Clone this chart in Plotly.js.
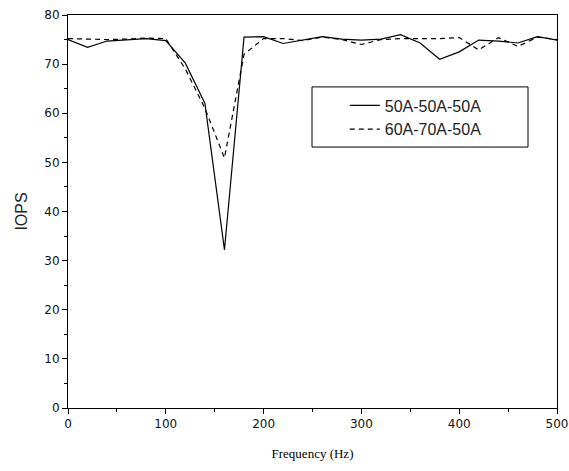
<!DOCTYPE html>
<html>
<head>
<meta charset="utf-8">
<script src="https://cdn.plot.ly/plotly-3.0.1.min.js"></script>
<style>html,body{margin:0;padding:0;background:#fff;}#chart{width:569px;height:471px;}</style>
</head>
<body>
<div id="chart"></div>
<script>
var freq = [0,20,40,60,80,100,120,140,160,180,200,220,240,260,280,300,320,340,360,380,400,420,440,460,480,500];
var series1Name = "50A-50A-50A";
var series1 = [75.0,73.4,74.7,75.0,75.2,74.8,70.2,62.0,32.2,75.5,75.6,74.2,74.9,75.6,75.1,74.9,75.1,76.0,74.3,71.0,72.5,74.9,74.7,74.3,75.6,74.9];
var series2Name = "60A-70A-50A";
var series2 = [75.2,75.1,75.0,75.1,75.3,75.2,69.0,61.0,50.9,72.0,75.2,75.2,74.8,75.5,75.0,74.0,75.0,75.2,75.2,75.2,75.4,72.9,75.4,73.6,75.5,75.0];
var xTicks = [0,100,200,300,400,500];
var yTicks = [0,10,20,30,40,50,60,70,80];

var traces = [
  {x: freq, y: series1, name: series1Name, mode: 'lines', type: 'scatter',
   line: {color: '#000', width: 1.2}},
  {x: freq, y: series2, name: series2Name, mode: 'lines', type: 'scatter',
   line: {color: '#000', width: 1.2, dash: '5px,4px'}}
];

var tickFont = {family: 'DejaVu Sans, Arial, sans-serif', size: 12, color: '#111'};
var layout = {
  width: 569, height: 471,
  margin: {l: 68, r: 12, t: 15, b: 63},
  paper_bgcolor: '#fff', plot_bgcolor: '#fff',
  showlegend: true,
  legend: {x: 0.566, y: 0.813, xanchor: 'left', yanchor: 'top',
    borderwidth: 0, bgcolor: 'rgba(0,0,0,0)',
    font: {family: 'Liberation Sans, Arial, sans-serif', size: 16, color: '#222'}},
  shapes: [{type: 'rect', xref: 'paper', yref: 'paper',
    x0: 0.499, x1: 0.9407, y0: 0.664, y1: 0.817,
    line: {color: '#000', width: 1}, fillcolor: '#fff', layer: 'below'}],
  xaxis: {range: [0, 500], tickvals: xTicks, ticktext: xTicks.map(String),
    ticks: 'outside', ticklen: 5, tickcolor: '#000', tickwidth: 1,
    minor: {dtick: 50, ticks: 'outside', ticklen: 3, tickcolor: '#000'},
    showline: true, linecolor: '#000', linewidth: 1, mirror: true,
    showgrid: false, zeroline: false, tickfont: tickFont,
    title: {text: 'Frequency (Hz)', font: {family: 'Liberation Serif, Times New Roman, serif', size: 13, color: '#000'}, standoff: 18}},
  yaxis: {range: [0, 80], tickvals: yTicks, ticktext: yTicks.map(String),
    ticks: 'outside', ticklen: 5, tickcolor: '#000', tickwidth: 1,
    minor: {dtick: 5, ticks: 'outside', ticklen: 3, tickcolor: '#000'},
    showline: true, linecolor: '#000', linewidth: 1, mirror: true,
    showgrid: false, zeroline: false, tickfont: tickFont,
    title: {text: 'IOPS', font: {family: 'Liberation Sans, Arial, sans-serif', size: 16, color: '#222'}, standoff: 12}}
};

Plotly.newPlot('chart', traces, layout, {staticPlot: true, displayModeBar: false});
</script>
</body>
</html>
